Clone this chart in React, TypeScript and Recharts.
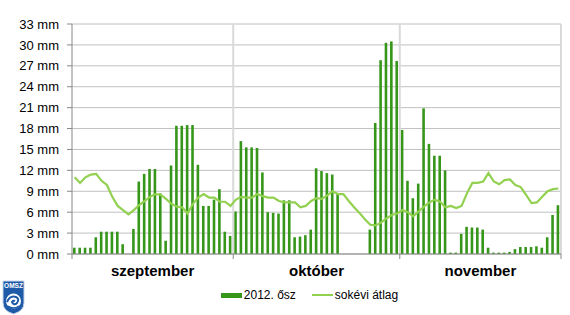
import React from 'react';
import {
  ComposedChart,
  Bar,
  Line,
  XAxis,
  YAxis,
  CartesianGrid,
  ReferenceLine,
  Legend,
} from 'recharts';

const monthNames = ['szeptember', 'október', 'november'];
const monthDays = [30, 31, 30];
const monthNums = ['09', '10', '11'];
const seriesNames = ['2012. ősz', 'sokévi átlag'];
const yTicks = [0, 3, 6, 9, 12, 15, 18, 21, 24, 27, 30, 33];

const precipSep = [0.9, 0.9, 0.9, 0.9, 2.4, 3.2, 3.2, 3.2, 3.2, 1.4, 0, 3.6, 10.4, 11.5, 12.2, 12.2, 8.7, 1.9, 12.7, 18.4, 18.4, 18.5, 18.5, 12.8, 6.9, 6.9, 7.8, 9.3, 3.2, 2.6];
const precipOct = [6.1, 16.2, 15.3, 15.3, 15.2, 11.7, 6.0, 5.9, 5.8, 7.7, 7.7, 2.4, 2.5, 2.7, 3.5, 12.3, 11.9, 11.6, 11.4, 8.7, 0, 0, 0, 0, 0, 3.5, 18.8, 27.8, 30.3, 30.5, 27.7];
const precipNov = [17.8, 10.5, 8.0, 10.1, 20.9, 15.8, 14.1, 14.1, 12.0, 0.2, 0.2, 2.9, 3.9, 3.8, 3.8, 3.5, 0.9, 0.2, 0.2, 0.2, 0.3, 0.7, 1.0, 1.0, 1.0, 1.1, 0.9, 2.4, 5.6, 7.0];

const avgSep = [11.0, 10.2, 11.0, 11.4, 11.5, 10.5, 9.9, 8.2, 6.9, 6.3, 5.7, 6.3, 7.0, 7.6, 8.2, 8.6, 8.5, 7.9, 7.2, 6.8, 6.7, 5.8, 7.2, 8.1, 8.6, 8.1, 8.1, 7.5, 7.5, 6.9];
const avgOct = [7.8, 8.2, 8.1, 8.1, 8.6, 8.3, 8.1, 8.1, 7.6, 7.4, 7.4, 7.4, 6.7, 6.9, 7.6, 8.0, 7.9, 8.4, 9.0, 8.6, 8.6, 7.6, 6.7, 5.9, 5.0, 4.2, 4.1, 4.5, 5.1, 5.6, 5.8];
const avgNov = [6.3, 6.0, 5.4, 6.1, 6.8, 7.4, 7.8, 7.5, 6.7, 6.9, 6.6, 6.9, 8.7, 10.2, 10.2, 10.4, 11.6, 10.4, 10.0, 10.6, 10.7, 9.9, 9.6, 8.5, 7.3, 7.4, 8.2, 9.0, 9.3, 9.4];

const precip = [...precipSep, ...precipOct, ...precipNov];
const avg = [...avgSep, ...avgOct, ...avgNov];

const data: { day: string; idx: number; p: number; a: number }[] = [];
{
  let k = 0;
  monthDays.forEach((n, m) => {
    for (let d = 1; d <= n; d++) {
      data.push({ day: `${monthNums[m]}.${String(d).padStart(2, '0')}`, idx: k + 0.5, p: precip[k], a: avg[k] });
      k++;
    }
  });
}

const boundaries: number[] = [0];
monthDays.forEach((n, i) => boundaries.push(boundaries[i] + n));
const mids = monthDays.map((n, i) => boundaries[i] + n / 2);
const total = boundaries[boundaries.length - 1];
const allTicks = [...boundaries, ...mids].sort((a, b) => a - b);

const BAR = '#36961a';
const LINE = '#92d050';
const FONT = '"Liberation Sans", Arial, sans-serif';

const MonthTick = (props: any) => {
  const { x, y, payload } = props;
  const v = payload.value;
  const mi = mids.indexOf(v);
  if (mi >= 0) {
    return (
      <text x={x} y={y + 22} textAnchor="middle" fontFamily={FONT} fontWeight="bold" fontSize={15} fill="#000">
        {monthNames[mi]}
      </text>
    );
  }
  return <line x1={x} y1={y} x2={x} y2={y + 5} stroke="#888" />;
};

const renderLegend = () => (
  <div
    style={{
      display: 'flex',
      alignItems: 'center',
      justifyContent: 'center',
      paddingLeft: 58,
      fontFamily: FONT,
      fontSize: 12,
      color: '#000',
      height: 20,
    }}
  >
    <span style={{ display: 'inline-block', width: 21, height: 5, background: BAR, marginRight: 2 }} />
    <span>{seriesNames[0]}</span>
    <span style={{ display: 'inline-block', width: 21, height: 2, background: LINE, marginLeft: 16, marginRight: 2 }} />
    <span>{seriesNames[1]}</span>
  </div>
);

const Logo = () => (
  <svg width={23} height={35} style={{ position: 'absolute', left: 2, top: 280 }}>
    <path d="M1 1 L22 1 L22 23 Q22 31 11.5 34 Q1 31 1 23 Z" fill="#1f5aa8" stroke="#c9d6ea" strokeWidth={1} />
    <text x={11.5} y={8} textAnchor="middle" fontFamily={FONT} fontWeight="bold" fontSize={6.5} fill="#fff">
      OMSZ
    </text>
    <circle cx={11.5} cy={21} r={7.5} fill="#fff" />
    <path d="M5 22 Q8 15 14 17 Q18 19 15 23 Q12 26 10 22 Q11 20 13 21" fill="none" stroke="#1f5aa8" strokeWidth={2} />
    <path d="M6 26 Q11 30 17 26" fill="none" stroke="#1f5aa8" strokeWidth={1.5} />
  </svg>
);

export default function App() {
  return (
    <div style={{ position: 'absolute', left: 0, top: 0, width: 570, height: 315, background: '#fff' }}>
      <ComposedChart
        width={570}
        height={315}
        data={data}
        margin={{ top: 24, right: 9, left: 0, bottom: 10 }}
      >
        <CartesianGrid vertical={false} stroke="#c0c0c0" />
        <XAxis xAxisId="cat" dataKey="day" hide />
        <XAxis
          xAxisId="b"
          dataKey="idx"
          type="number"
          domain={[0, total]}
          allowDataOverflow
          ticks={allTicks}
          interval={0}
          tick={<MonthTick />}
          tickSize={0}
          tickMargin={0}
          tickLine={false}
          height={31}
          axisLine={{ stroke: '#888' }}
        />
        <YAxis
          domain={[0, 33]}
          ticks={yTicks}
          interval={0}
          width={72}
          tickSize={5}
          tickMargin={8}
          tickFormatter={(v: number) => `${v} mm`}
          axisLine={{ stroke: '#888' }}
          tickLine={{ stroke: '#888' }}
          tick={{ fill: '#000', fontFamily: FONT, fontSize: 13 }}
        />
        {boundaries.slice(1).map((b) => (
          <ReferenceLine key={b} xAxisId="b" x={b} stroke="#d9d9d9" strokeWidth={2} />
        ))}
        <Bar xAxisId="cat" dataKey="p" name={seriesNames[0]} fill={BAR} barSize={2.6} isAnimationActive={false} />
        <Line
          xAxisId="cat"
          dataKey="a"
          name={seriesNames[1]}
          stroke={LINE}
          strokeWidth={2.2}
          dot={false}
          activeDot={false}
          isAnimationActive={false}
        />
        <Legend verticalAlign="bottom" height={20} content={renderLegend} />
      </ComposedChart>
      <Logo />
    </div>
  );
}
